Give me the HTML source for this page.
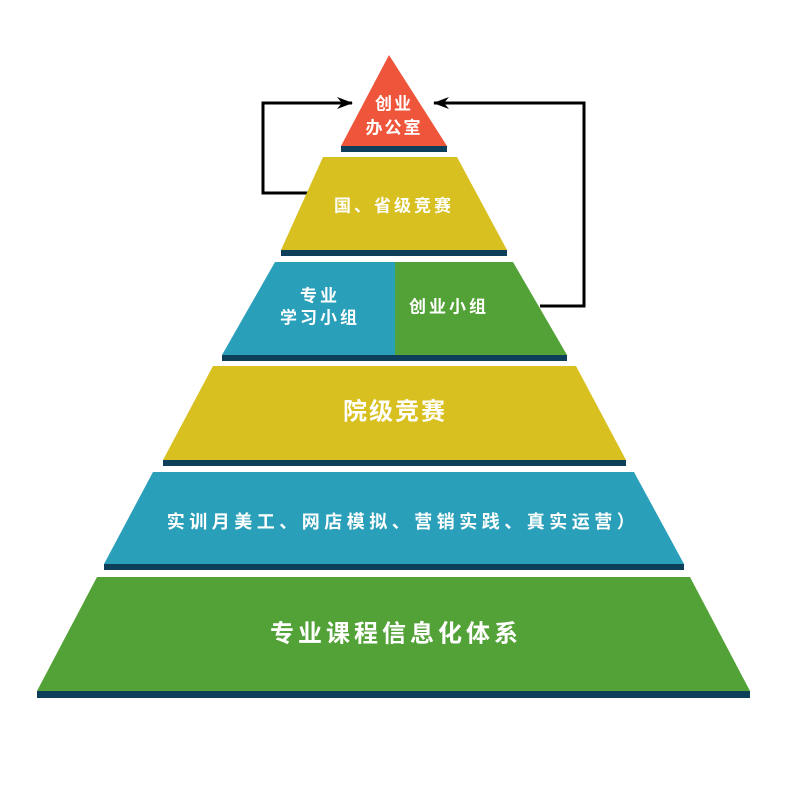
<!DOCTYPE html>
<html><head><meta charset="utf-8"><style>
html,body{margin:0;padding:0;background:#fff;}
svg{display:block;}
text{font-family:"Liberation Sans","Noto Sans CJK SC",sans-serif;fill:#fff;font-weight:bold;text-anchor:middle;dominant-baseline:central;}
</style></head><body>
<svg width="792" height="792" viewBox="0 0 792 792" xmlns="http://www.w3.org/2000/svg">
<defs>
<marker id="ah" viewBox="0 0 16 12" refX="15" refY="6" markerWidth="16" markerHeight="12" markerUnits="userSpaceOnUse" orient="auto">
<path d="M0,0 L16,6 L0,12 L5,6 Z" fill="#000"/>
</marker>
</defs>
<polyline points="315,193 263,193 263,103 352,103" fill="none" stroke="#000" stroke-width="3" marker-end="url(#ah)"/>
<polyline points="540,306 584,306 584,103 434,103" fill="none" stroke="#000" stroke-width="3" marker-end="url(#ah)"/>
<polygon points="341,146 447,146 447,152 341,152" fill="#0d3f5a"/>
<polygon points="389,55 447,146 341,146" fill="#ef553a"/>
<polygon points="281,250 507,250 507,256 281,256" fill="#0d3f5a"/>
<polygon points="323,157 457,157 507,250 281,250" fill="#d8c021"/>
<polygon points="222,355 567,355 567,361 222,361" fill="#0d3f5a"/>
<polygon points="275,262 395,262 395,355 222,355" fill="#2a9fba"/>
<polygon points="395,262 513,262 567,355 395,355" fill="#53a237"/>
<polygon points="163,460 626,460 626,466 163,466" fill="#0d3f5a"/>
<polygon points="213,366 576,366 626,460 163,460" fill="#d8c021"/>
<polygon points="104,564 684,564 684,570 104,570" fill="#0d3f5a"/>
<polygon points="153,472 634,472 684,564 104,564" fill="#2a9fba"/>
<polygon points="37,691 750,691 750,698 37,698" fill="#0d3f5a"/>
<polygon points="97,577 690,577 750,691 37,691" fill="#53a237"/>
<text x="394" y="104" font-size="17" letter-spacing="2">创业</text>
<text x="394" y="128" font-size="17" letter-spacing="2">办公室</text>
<text x="394" y="206" font-size="17" letter-spacing="3">国、省级竞赛</text>
<text x="320" y="296" font-size="17" letter-spacing="3">专业</text>
<text x="320" y="318" font-size="17" letter-spacing="3">学习小组</text>
<text x="449" y="307" font-size="17" letter-spacing="3">创业小组</text>
<text x="395" y="412" font-size="24" font-weight="normal" letter-spacing="2">院级竞赛</text>
<text x="403" y="522" font-size="18" letter-spacing="4.5">实训月美工、网店模拟、营销实践、真实运营）</text>
<text x="396" y="634" font-size="24" font-weight="normal" letter-spacing="4">专业课程信息化体系</text>
</svg>
</body></html>
